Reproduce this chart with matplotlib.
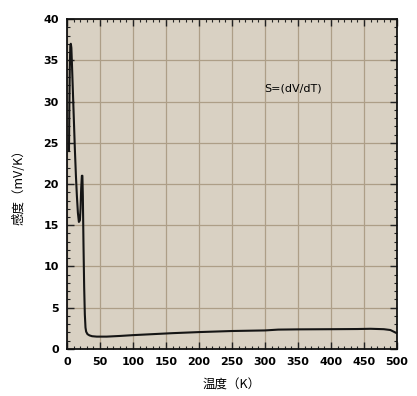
import matplotlib.pyplot as plt
from matplotlib.ticker import MultipleLocator

# data
temp_k = [3, 3.5, 4.2, 5, 5.8, 6.6, 7.5, 9, 10.5, 12, 13.5, 15, 16.5, 18, 19.5, 20.5,
          21.5, 22.5, 23.3, 24, 25, 26, 27, 28, 29, 31, 34, 38, 45, 60, 80, 100,
          130, 160, 200, 250, 300, 320, 350, 400, 440, 460, 480, 490, 500]
sens = [24, 29, 34, 36.8, 37, 36.5, 34.5, 31, 27.5, 24, 21, 18.5, 16.5, 15.4, 15.6, 17,
        19.5, 21, 21, 18.5, 12.5, 7.5, 4.2, 2.6, 2.1, 1.8, 1.65, 1.55, 1.5, 1.5, 1.58, 1.68,
        1.8, 1.92, 2.05, 2.18, 2.25, 2.35, 2.38, 2.4, 2.42, 2.45, 2.4, 2.3, 1.9]

x_ticks = [0, 50, 100, 150, 200, 250, 300, 350, 400, 450, 500]
y_ticks = [0, 5, 10, 15, 20, 25, 30, 35, 40]

plt.rcParams['font.family'] = ['Noto Sans CJK SC', 'DejaVu Sans']

fig = plt.figure(figsize=(4.17, 3.96), dpi=100)
ax = fig.add_axes([0.1607, 0.1187, 0.7913, 0.8333])
ax.set_facecolor('#d9d1c3')

ax.plot(temp_k, sens, color='#151515', lw=1.5)

ax.set_xlim(0, 500)
ax.set_ylim(0, 40)
ax.set_xticks(x_ticks)
ax.set_yticks(y_ticks)
ax.xaxis.set_minor_locator(MultipleLocator(10))
ax.yaxis.set_minor_locator(MultipleLocator(1))
ax.grid(True, which='major', color='#ad9e87', lw=0.9)
ax.set_axisbelow(True)
ax.tick_params(which='both', direction='in', top=True, right=True, color='#222222')
ax.tick_params(which='major', length=5, width=1, labelsize=8, pad=6)
ax.tick_params(which='minor', length=2.5, width=0.8)
for lab in ax.get_xticklabels() + ax.get_yticklabels():
    lab.set_fontweight('bold')
    lab.set_fontfamily('DejaVu Sans')
for s in ax.spines.values():
    s.set_linewidth(1.3)
    s.set_color('#111111')

ax.text(342, 31.6, 'S=(dV/dT)', fontsize=8, ha='center', va='center',
        family='DejaVu Sans')

ax.set_xlabel('温度（K）', fontsize=9, labelpad=8)
ax.set_ylabel('感度（mV/K）', fontsize=9, labelpad=13)

fig.savefig('out.png', dpi=100)
